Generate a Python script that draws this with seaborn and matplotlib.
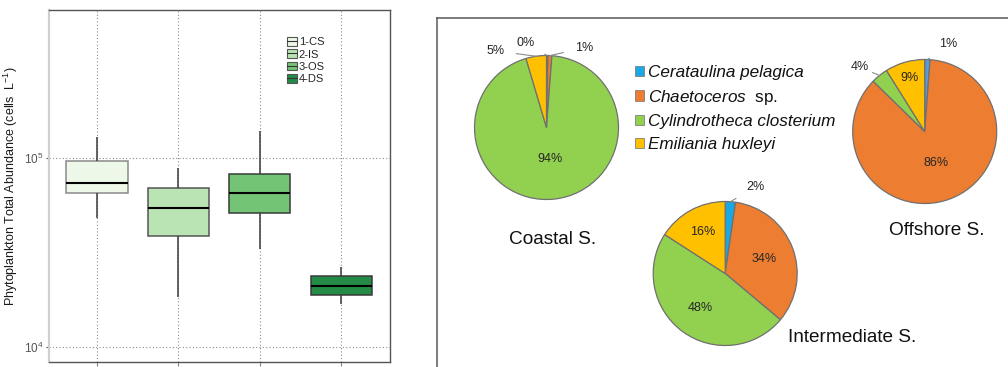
import numpy as np
import pandas as pd
import matplotlib
matplotlib.use("Agg")
import matplotlib.pyplot as plt
from matplotlib.patches import Patch
from matplotlib.lines import Line2D
from matplotlib.legend_handler import HandlerTuple
from matplotlib.ticker import NullLocator, FixedLocator
import seaborn as sns

# ---------------- data ----------------
sites = ["CS", "IS", "OS", "DS"]
site_labels = ["1-CS", "2-IS", "3-OS", "4-DS"]
whisker_low = [48200, 18400, 33000, 16900]
q1 = [65300, 38600, 51200, 18800]
median = [73800, 54300, 65300, 21100]
q3 = [96400, 69400, 82200, 23800]
whisker_high = [129000, 88500, 139000, 26500]

species = ["Cerataulina pelagica", "Chaetoceros sp.",
           "Cylindrotheca closterium", "Emiliania huxleyi"]
coastal = [0.3, 0.9, 94.2, 4.6]
intermediate = [2.3, 33.8, 48.0, 15.9]
offshore = [1.2, 86.1, 3.8, 8.9]

# ---------------- style ----------------
sns.set_style("white")
plt.rcParams["font.family"] = ["Liberation Sans", "DejaVu Sans"]
plt.rcParams["mathtext.fontset"] = "custom"
plt.rcParams["mathtext.rm"] = "Liberation Sans"
plt.rcParams["mathtext.it"] = "Liberation Sans:italic"
plt.rcParams["mathtext.bf"] = "Liberation Sans:bold"

box_colors = ["#edf8e9", "#bae4b3", "#74c476", "#238b45"]
box_edges = ["#8a8a8a", "#555555", "#3a3a3a", "#3a3a3a"]
sp_colors = ["#1aa8e2", "#ed7d31", "#92d050", "#ffc000"]
offshore_colors = ["#5b9bd5", "#ed7d31", "#92d050", "#ffc000"]

W, H = 1008, 367
fig = plt.figure(figsize=(W / 100, H / 100), dpi=100)

def px_axes(x0, y0, x1, y1, **kw):
    return fig.add_axes([x0 / W, 1 - y1 / H, (x1 - x0) / W, (y1 - y0) / H], **kw)

# ---------------- left: boxplot ----------------
rows = []
for i, s in enumerate(sites):
    for v in (whisker_low[i], q1[i], median[i], q3[i], whisker_high[i]):
        rows.append({"site": s, "abundance": v})
df = pd.DataFrame(rows)

ax = px_axes(49, 10, 390, 362)
sns.boxplot(data=df, x="site", y="abundance", hue="site", order=sites,
            hue_order=sites, palette=box_colors, saturation=1, log_scale=True,
            whis=(0, 100), width=0.75, linewidth=1.1, linecolor="#3a3a3a",
            showcaps=False, legend=False,
            medianprops={"color": "black", "linewidth": 1.5},
            whiskerprops={"color": "#3a3a3a"}, ax=ax)
for p, ec in zip(ax.patches, box_edges):
    p.set_edgecolor(ec)

ax.set_ylim(8340, 6.07e5)
ax.set_xlim(-0.59, 3.6)
ax.yaxis.set_major_locator(FixedLocator([1e4, 1e5]))
ax.yaxis.set_minor_locator(NullLocator())
ax.set_xticklabels([])
ax.set_axisbelow(True)
ax.grid(True, which="major", linestyle=(0, (1, 2)), color="#8c8c8c", linewidth=0.8)
ax.set_xlabel("")
ax.set_ylabel("Phytoplankton Total Abundance (cells  L$^{-1}$)", fontsize=9,
              color="#1a1a1a")
ax.yaxis.set_label_coords(-0.085, 0.5)
ax.tick_params(axis="y", labelsize=8.5, colors="#555555", length=2, pad=2, left=True)
ax.tick_params(axis="x", colors="#888888", length=3, pad=2, bottom=True)
for side in ("top", "right", "bottom"):
    ax.spines[side].set_color("#555555")
    ax.spines[side].set_linewidth(1.0)
ax.spines["left"].set_color("#cfcfcf")
ax.spines["left"].set_linewidth(1.6)

handles = [(Patch(facecolor=c, edgecolor="#555555", linewidth=0.8),
            Line2D([], [], color="#333333", linewidth=0.8))
           for c in box_colors]
ax.legend(handles, site_labels, loc="upper left", bbox_to_anchor=(0.698, 0.923),
          frameon=False, fontsize=8, borderpad=0, borderaxespad=0,
          labelspacing=0.2, handlelength=0.9, handleheight=0.8, handletextpad=0.15,
          handler_map={tuple: HandlerTuple(ndivide=1)})

# ---------------- right: pies ----------------
frame = fig.add_axes([437 / W, -0.1, 0.6, (H - 18) / H + 0.1], zorder=0)
frame.set_facecolor("none")
frame.set_xticks([])
frame.set_yticks([])
for side in ("right", "bottom"):
    frame.spines[side].set_visible(False)
for side in ("top", "left"):
    frame.spines[side].set_color("#595959")
    frame.spines[side].set_linewidth(1.1)

R = 72

def draw_pie(cx, cy, values, colors, placements, title, title_xy):
    pax = px_axes(cx - R, cy - R, cx + R, cy + R, zorder=2)
    pax.pie(values, colors=colors, startangle=90, counterclock=False, radius=1,
            wedgeprops={"edgecolor": "#707070", "linewidth": 0.9})
    pax.set_aspect("auto")
    pax.set_xlim(-1, 1)
    pax.set_ylim(-1, 1)
    total = sum(values)
    cum = 0.0
    for v, pl in zip(values, placements):
        mid = np.deg2rad(90 - 360 * (cum + v / 2) / total)
        cum += v
        lab = f"{round(v / total * 100)}%"
        if pl[0] == "in":
            r = pl[1]
            pax.text(r * np.cos(mid), r * np.sin(mid), lab, ha="center",
                     va="center", fontsize=9, color="#262626")
        else:
            dx, dy = pl[1], pl[2]
            pax.annotate(lab, xy=(np.cos(mid), np.sin(mid)),
                         xytext=(dx, -dy), textcoords="offset pixels",
                         ha="center", va="center", fontsize=9, color="#262626",
                         annotation_clip=False,
                         arrowprops={"arrowstyle": "-", "color": "#8c8c8c",
                                     "linewidth": 0.8, "shrinkA": 6, "shrinkB": 0})
    fig.text(title_xy[0] / W, 1 - title_xy[1] / H, title, ha="center",
             va="center", fontsize=13.7, color="#111111")

draw_pie(546.5, 127.5, coastal, sp_colors,
         [("out", -22, -12.5), ("out", 34, -7.6), ("in", 0.44), ("out", -40.5, -5.3)],
         "Coastal S.", (552.6, 240))
draw_pie(924.7, 131.5, offshore, offshore_colors,
         [("out", 21, -15.5), ("in", 0.465), ("out", -19.4, -8), ("in", 0.77)],
         "Offshore S.", (937, 230))
draw_pie(725.2, 273.5, intermediate, sp_colors,
         [("out", 25.3, -14.6), ("in", 0.58), ("in", 0.59), ("in", 0.65)],
         "Intermediate S.", (852, 338))

sp_handles = [Patch(facecolor=c, edgecolor="#7f7f7f", linewidth=0.6) for c in sp_colors]
sp_labels = [species[0], r"$\mathit{Chaetoceros}$  sp.", species[2], species[3]]
leg = fig.legend(sp_handles, sp_labels, loc="upper left",
                 bbox_to_anchor=(634.6 / W, 1 - 65 / H), frameon=False,
                 fontsize=12.3, borderpad=0, borderaxespad=0, labelspacing=0.45,
                 handlelength=0.55, handleheight=0.55, handletextpad=0.25)
for i, t in enumerate(leg.get_texts()):
    t.set_color("#111111")
    if i != 1:
        t.set_fontstyle("italic")

fig.savefig("out.png", dpi=100)
